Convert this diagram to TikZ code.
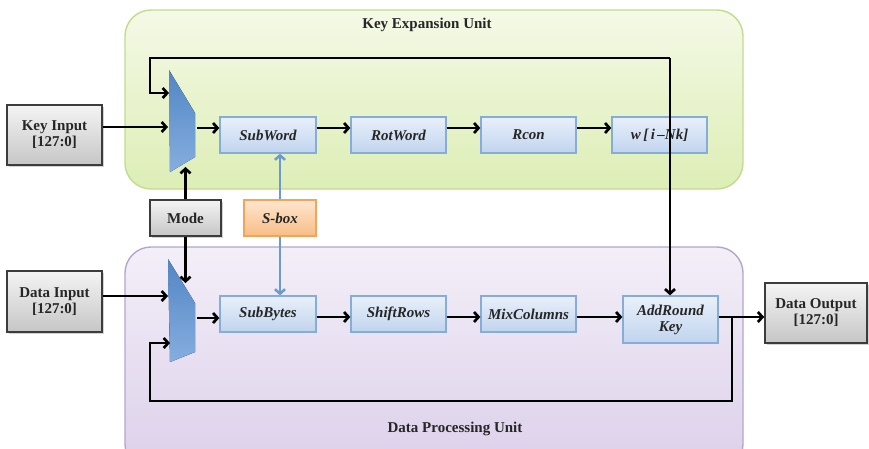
\documentclass[tikz,border=0pt]{standalone}
\usepackage{fontspec}
\setmainfont{Liberation Serif}
\usetikzlibrary{arrows.meta,shadows,calc}

\definecolor{keyfillA}{HTML}{F4F9E6}
\definecolor{keyfillB}{HTML}{DDEEB6}
\definecolor{keyedge}{HTML}{C2DB8E}
\definecolor{datfillA}{HTML}{F3EFF8}
\definecolor{datfillB}{HTML}{DCD0EA}
\definecolor{datedge}{HTML}{B6A5CB}
\definecolor{opfillA}{HTML}{E9F0FA}
\definecolor{opfillB}{HTML}{C0D4EE}
\definecolor{opedge}{HTML}{86ACDA}
\definecolor{iofillA}{HTML}{F4F4F4}
\definecolor{iofillB}{HTML}{C6C6C6}
\definecolor{ioedge}{HTML}{3C3C3C}
\definecolor{sbfillA}{HTML}{FDE6CF}
\definecolor{sbfillB}{HTML}{F8BD85}
\definecolor{sbedge}{HTML}{F2A45A}
\definecolor{muxA}{HTML}{5286C4}
\definecolor{muxB}{HTML}{86AEDF}
\definecolor{sblink}{HTML}{6A9BD0}
\definecolor{txt}{HTML}{262626}

\tikzset{
  x=1pt, y=-1pt,
  font=\fontsize{15}{16}\selectfont\bfseries,
  text=txt,
  unitbox/.style={rounded corners=26pt, line width=1.4pt},
  iobox/.style={draw=ioedge, line width=1.6pt, top color=iofillA, bottom color=iofillB,
    align=center, inner sep=1pt,
    drop shadow={opacity=0.35, shadow xshift=1.5pt, shadow yshift=-1.5pt}},
  opbox/.style={draw=opedge, line width=1.3pt, top color=opfillA, bottom color=opfillB,
    minimum width=96pt, minimum height=36pt, align=center, inner sep=1pt,
    font=\fontsize{15}{16}\selectfont\bfseries\itshape,
    drop shadow={opacity=0.25, shadow xshift=1.2pt, shadow yshift=-1.2pt}},
  sboxstyle/.style={draw=sbedge, line width=1.3pt, top color=sbfillA, bottom color=sbfillB,
    minimum width=72pt, minimum height=36pt, inner sep=1pt,
    font=\fontsize{15}{16}\selectfont\bfseries\itshape,
    drop shadow={opacity=0.25, shadow xshift=1.2pt, shadow yshift=-1.2pt}},
  muxshape/.style={top color=muxA, bottom color=muxB, draw=none},
  arr/.style={line width=2.7pt, draw=black, -{Straight Barb[length=4.5pt,width=10pt]}},
  barr/.style={line width=2.5pt, draw=sblink, -{Straight Barb[length=4.5pt,width=10pt]}},
}

\begin{document}
\begin{tikzpicture}
\useasboundingbox (0,0) rectangle (869,448);

% unit containers
\draw[unitbox, draw=keyedge, top color=keyfillA, bottom color=keyfillB]
  (125,10) rectangle (743,189);
\draw[unitbox, draw=datedge, top color=datfillA, bottom color=datfillB]
  (125,247) rectangle (743,470);
\node (ktitle) at (427,25) {Key Expansion Unit};
\node (dtitle) at (455,429) {Data Processing Unit};

% multiplexers
\fill[muxshape] (169,70) -- (195,113) -- (195,157) -- (170,172) -- cycle;
\fill[muxshape] (168,259) -- (195,303) -- (195,352) -- (170,362) -- cycle;
\coordinate (kmuxin)  at (168,127);
\coordinate (kmuxfb)  at (169,93);
\coordinate (kmuxout) at (197,128);
\coordinate (kmuxsel) at (185.5,167);
\coordinate (dmuxin)  at (168,296);
\coordinate (dmuxfb)  at (170,343);
\coordinate (dmuxout) at (197,318);
\coordinate (dmuxsel) at (185.5,283);

% input / output blocks
\node[iobox, minimum width=95pt, minimum height=60pt] (keyin) at (54.5,135) {Key Input\\{[}127:0{]}};
\node[iobox, minimum width=95pt, minimum height=61pt] (datain) at (54.5,301.5) {Data Input\\{[}127:0{]}};
\node[iobox, minimum width=71pt, minimum height=36pt] (mode) at (185.5,218) {Mode};
\node[iobox, minimum width=102pt, minimum height=60pt] (dataout) at (816,313) {Data Output\\{[}127:0{]}};
\node[sboxstyle] (sbox) at (280,218) {S-box};

% key expansion chain
\node[opbox] (subword) at (268,135) {SubWord};
\node[opbox, minimum width=95pt] (rotword) at (398.5,135) {RotWord};
\node[opbox, minimum width=95pt] (rcon) at (528.5,135) {Rcon};
\node[opbox, minimum width=95pt] (wnk) at (659.5,135) {w\,[\,i\,--Nk]};

% data processing chain
\node[opbox] (subbytes) at (268,314) {SubBytes};
\node[opbox, minimum width=95pt] (shiftrows) at (398.5,314) {ShiftRows};
\node[opbox, minimum width=95pt] (mixcol) at (528.5,314) {MixColumns};
\node[opbox, minimum width=95pt, minimum height=47pt] (addkey) at (670.5,319.5) {AddRound\\Key};

% key path
\draw[arr] (keyin.east |- kmuxin) -- (kmuxin);
\draw[arr] (kmuxout) -- (subword.west |- kmuxout);
\draw[arr] (subword.east |- kmuxout) -- (rotword.west |- kmuxout);
\draw[arr] (rotword.east |- kmuxout) -- (rcon.west |- kmuxout);
\draw[arr] (rcon.east |- kmuxout) -- (wnk.west |- kmuxout);
\coordinate (ktop) at (670,58);
\draw[arr] (ktop) -| ($(kmuxfb)+(-19,0)$) -- (kmuxfb);
\draw[arr] (ktop) -- (addkey.north -| ktop);

% mode select
\draw[arr] (mode.north) -- (kmuxsel);
\draw[arr] (mode.south) -- (dmuxsel);

% s-box lookups
\draw[barr] (sbox.north) -- (sbox.north |- subword.south);
\draw[barr] (sbox.south) -- (sbox.south |- subbytes.north);

% data path
\coordinate (dline) at (0,317);
\draw[arr] (datain.east |- dmuxin) -- (dmuxin);
\draw[arr] (dmuxout) -- (subbytes.west |- dmuxout);
\draw[arr] (subbytes.east |- dline) -- (shiftrows.west |- dline);
\draw[arr] (shiftrows.east |- dline) -- (mixcol.west |- dline);
\draw[arr] (mixcol.east |- dline) -- (addkey.west |- dline);
\draw[arr] (addkey.east |- dline) -- (dataout.west |- dline);
\coordinate (djoin) at (732,317);
\draw[arr] (djoin) -- (732,401) -- (150,401) -- (150,343) -- (dmuxfb);
\end{tikzpicture}
\end{document}
